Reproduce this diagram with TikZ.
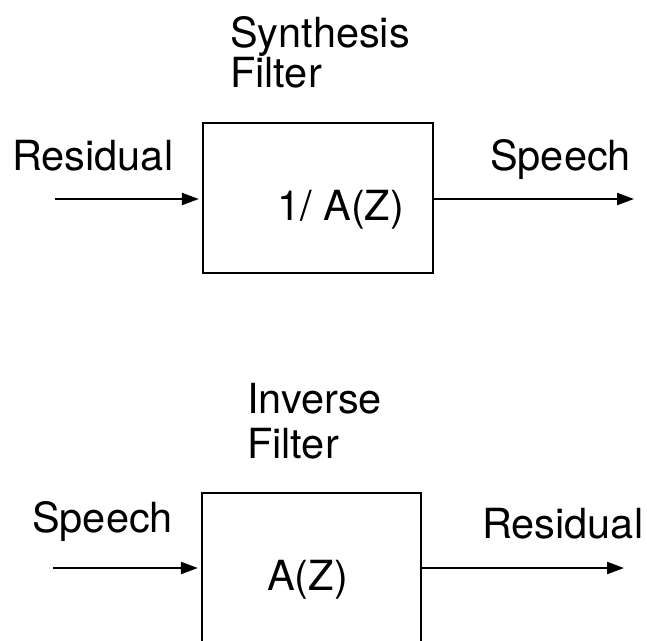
\documentclass[tikz,border=0pt]{standalone}
\usepackage{fontspec}
\setmainfont{TeX Gyre Heros}
\usetikzlibrary{arrows.meta}
\begin{document}
\begin{tikzpicture}[x=1pt,y=-1pt,
  filterbox/.style={draw=black,line width=2.2pt,minimum height=150pt,inner sep=0pt},
  txt/.style={anchor=base west,inner sep=0pt,font=\fontsize{41.5}{44}\selectfont},
  sig/.style={line width=2.2pt,-{Triangle[length=17pt,width=12pt]}}]
\useasboundingbox (0,0) rectangle (647,640);
% top: synthesis filter
\node[filterbox,minimum width=230pt] (synth) at (318,198) {};
\node[txt] (synthA) at (230,47) {Synthesis};
\node[txt] (synthB) at (230,87) {Filter};
\node[txt] (synthT) at (277,220) {1/ A(Z)};
\node[txt] (resIn) at (12,170) {Residual};
\node[txt] (spOut) at (490,170) {Speech};
\coordinate (sIn) at (55,199);
\coordinate (sOut) at (634,199);
\draw[sig,shorten >=3pt] (sIn) -- (sIn -| synth.west);
\draw[sig] (sOut -| synth.east) -- (sOut);
% bottom: inverse filter
\node[filterbox,minimum width=219pt] (inv) at (311.5,568) {};
\node[txt] (invA) at (247,413) {Inverse};
\node[txt] (invB) at (247,458) {Filter};
\node[txt] (invT) at (267,590) {A(Z)};
\node[txt] (spIn) at (32,532) {Speech};
\node[txt] (resOut) at (482,538) {Residual};
\coordinate (iIn) at (53,568);
\coordinate (iOut) at (624,568);
\draw[sig,shorten >=3pt] (iIn) -- (iIn -| inv.west);
\draw[sig] (iOut -| inv.east) -- (iOut);
\end{tikzpicture}
\end{document}
